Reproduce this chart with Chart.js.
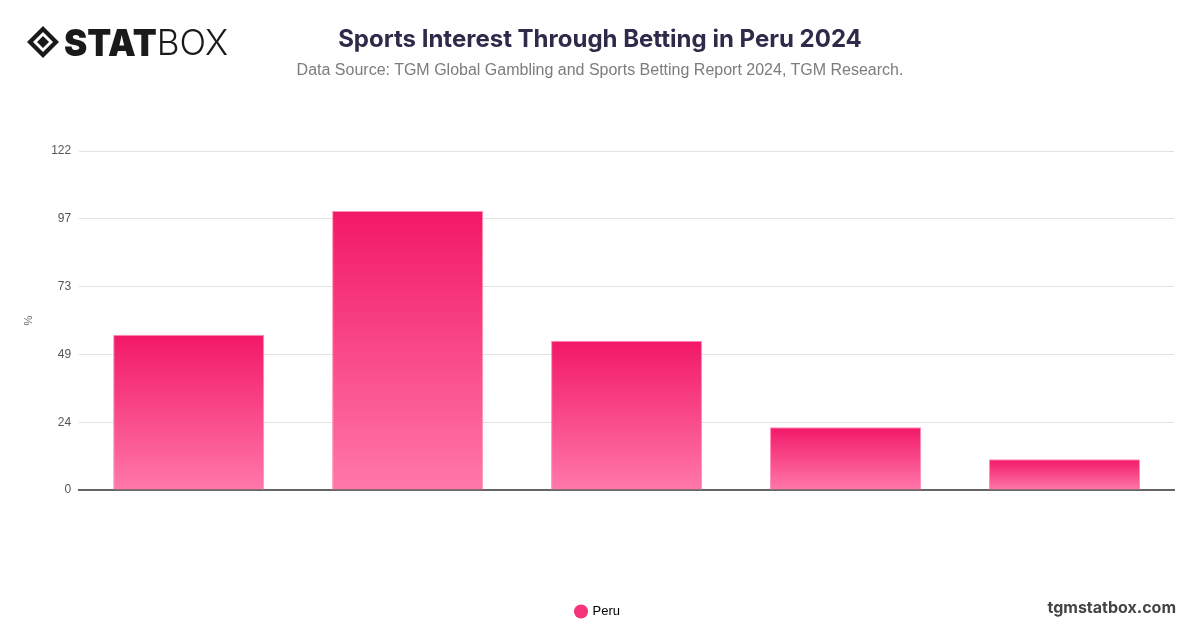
<!DOCTYPE html>
<html>
<head>
<meta charset="utf-8">
<script src="https://cdn.jsdelivr.net/npm/chart.js@4/dist/chart.umd.min.js"></script>
<style>
  html, body { margin: 0; padding: 0; background: #fff; }
  #wrap { position: relative; width: 1200px; height: 628px; overflow: hidden; }
  #chart { position: absolute; left: 0; top: 0; }
  .logo { position: absolute; left: 26px; top: 21px; display: flex; align-items: center; }
  .logo svg { margin-right: 4px; }
  .logo .stat { font-family: Inter, sans-serif; font-weight: 900; font-size: 35px; color: #1a1a1a; letter-spacing: 0px; transform: scaleY(1.05); }
  .logo .box { font-family: Inter, sans-serif; font-weight: 300; font-size: 35px; color: #1a1a1a; }
  .title { position: absolute; left: 0; width: 1200px; top: 24px; text-align: center;
    font-family: Inter, sans-serif; font-weight: 700; font-size: 24px; color: #2e2b4a; }
  .subtitle { position: absolute; left: 0; width: 1200px; top: 61px; text-align: center;
    font-family: "Liberation Sans", Arial, sans-serif; font-size: 16px; color: #7c7c7c; }
  .site { position: absolute; right: 24px; top: 597px; font-family: Inter, sans-serif;
    font-weight: 700; font-size: 16px; color: #444; }
</style>
</head>
<body>
<div id="wrap">
  <canvas id="chart" width="1200" height="628"></canvas>
  <div class="logo">
    <svg width="34" height="34" viewBox="0 0 34 34">
      <path d="M17 1 L33 17 L17 33 L1 17 Z" fill="#1a1a1a"/>
      <path d="M17 7 L27 17 L17 27 L7 17 Z" fill="#fff"/>
      <path d="M17 11 L23 17 L17 23 L11 17 Z" fill="#1a1a1a"/>
    </svg>
    <span class="stat">STAT</span><span class="box">BOX</span>
  </div>
  <div class="title">Sports Interest Through Betting in Peru 2024</div>
  <div class="subtitle">Data Source: TGM Global Gambling and Sports Betting Report 2024, TGM Research.</div>
  <div class="site">tgmstatbox.com</div>
</div>
<script>
// data
const categories = ["1", "2", "3", "4", "5"];
const seriesName = "Peru";
const peruValues = [55.6, 100, 53.5, 22.5, 11];
const yTickValues = [0, 24.3, 48.6, 72.9, 97.2, 121.5];
const yTickLabels = ["0", "24", "49", "73", "97", "122"];

function barGradient(context) {
  const chart = context.chart;
  const y = chart.scales.y;
  if (!y) return "#f4357c";
  const v = context.raw;
  const top = y.getPixelForValue(v);
  const base = y.getPixelForValue(0);
  if (!isFinite(top) || !isFinite(base) || top === base) return "#f4357c";
  const g = chart.ctx.createLinearGradient(0, top, 0, base);
  g.addColorStop(0, "#f21868");
  g.addColorStop(1, "#ff78a9");
  return g;
}

const ctx = document.getElementById("chart").getContext("2d");
new Chart(ctx, {
  type: "bar",
  data: {
    labels: categories,
    datasets: [{
      label: seriesName,
      data: peruValues,
      backgroundColor: barGradient,
      borderColor: "#ff8fb8",
      borderWidth: 1,
      barPercentage: 0.69,
      categoryPercentage: 1
    }]
  },
  options: {
    responsive: false,
    animation: false,
    layout: { padding: { top: 151, left: 22, right: 26, bottom: 0 } },
    plugins: {
      title: { display: false },
      tooltip: { enabled: false },
      legend: {
        position: "bottom",
        labels: {
          usePointStyle: true,
          pointStyle: "circle",
          boxWidth: 10,
          boxHeight: 10,
          padding: 10,
          color: "#555",
          font: { family: "'Liberation Sans', Arial, sans-serif", size: 13 },
          generateLabels: function (chart) {
            return chart.data.datasets.map(function (ds, i) {
              return {
                text: ds.label,
                fillStyle: "#f4357c",
                strokeStyle: "#f4357c",
                lineWidth: 0,
                pointStyle: "circle",
                datasetIndex: i
              };
            });
          }
        }
      }
    },
    scales: {
      x: {
        grid: { display: false },
        border: { display: true, color: "#666", width: 2 },
        ticks: { display: false },
        afterFit: function (axis) { axis.height = 105; }
      },
      y: {
        min: 0,
        max: yTickValues[yTickValues.length - 1],
        afterBuildTicks: function (axis) {
          axis.ticks = yTickValues.map(function (v) { return { value: v }; });
        },
        grid: { color: "#e2e2e2", drawTicks: false },
        border: { display: false },
        ticks: {
          padding: 8,
          color: "#555",
          font: { family: "'Liberation Sans', Arial, sans-serif", size: 12 },
          callback: function (value) {
            const i = yTickValues.indexOf(value);
            return i >= 0 ? yTickLabels[i] : "";
          }
        },
        title: {
          display: true,
          text: "%",
          color: "#666",
          font: { family: "'Liberation Sans', Arial, sans-serif", size: 11 },
          padding: { top: 0, bottom: 8 }
        }
      }
    }
  }
});
</script>
</body>
</html>
